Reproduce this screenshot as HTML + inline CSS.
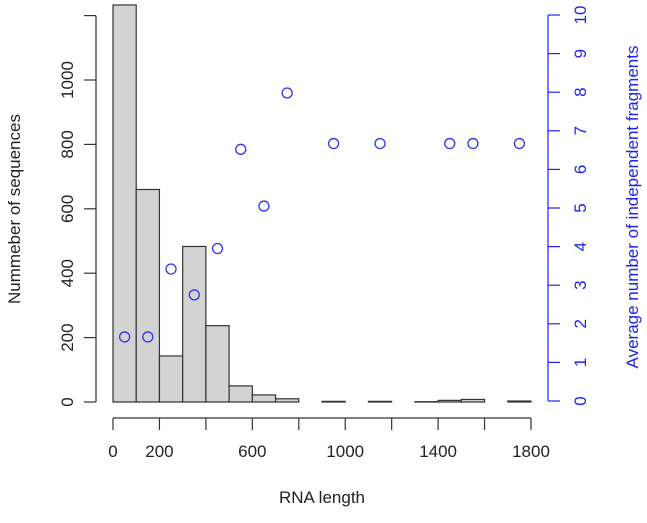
<!DOCTYPE html>
<html><head><meta charset="utf-8"><style>
body{margin:0;background:#fff;}
svg text{font-family:"Liberation Sans","DejaVu Sans",sans-serif;font-size:17px;}
</style></head><body>
<svg id="c" width="647" height="518"></svg>
<script>
const binStarts=[0,100,200,300,400,500,600,700,800,900,1000,1100,1200,1300,1400,1500,1600,1700];
const counts=[1233,660,143,483,237,50,22,10,0,2,0,2,0,1,5,8,0,3];
const pointX=[50,150,250,350,450,550,650,750,950,1150,1450,1550,1750];
const pointY=[1.66,1.66,3.42,2.75,3.95,6.52,5.05,7.98,6.67,6.67,6.67,6.67,6.67];
const xTicks=[0,200,400,600,800,1000,1200,1400,1600,1800];
const xLabels=["0","200","","600","","1000","","1400","","1800"];
const yTicks=[0,200,400,600,800,1000,1200];
const yLabels=["0","200","400","600","800","1000",""];
const y2Ticks=[0,1,2,3,4,5,6,7,8,9,10];

const X=v=>113+v*418/1800;
const Y=v=>402-v*0.322;
const Y2=v=>401-v*38.6;
const svg=document.getElementById('c');
const NS='http://www.w3.org/2000/svg';
function mk(t,a){const e=document.createElementNS(NS,t);for(const k in a)e.setAttribute(k,a[k]);svg.appendChild(e);return e;}

counts.forEach((c,i)=>{
 const r=mk('rect',{x:X(binStarts[i]),y:Y(c),width:X(binStarts[i]+100)-X(binStarts[i]),height:Y(0)-Y(c),fill:'#d3d3d3',stroke:'#333','stroke-width':1.2});
 
 
});
let ax=mk('line',{x1:X(0),x2:X(1800),y1:418,y2:418,stroke:'#333','stroke-width':1.2});


xTicks.forEach((t,i)=>{
 mk('line',{x1:X(t),x2:X(t),y1:418,y2:430,stroke:'#333','stroke-width':1.2});
 if(xLabels[i]){const tx=mk('text',{x:X(t),y:457,'text-anchor':'middle',fill:'#222'});tx.textContent=xLabels[i];
 
 }
});
let ay=mk('line',{x1:96,x2:96,y1:Y(0),y2:Y(1200),stroke:'#333','stroke-width':1.2});


yTicks.forEach((t,i)=>{
 mk('line',{x1:84,x2:96,y1:Y(t),y2:Y(t),stroke:'#333','stroke-width':1.2});
 if(yLabels[i]){const tx=mk('text',{x:0,y:0,'text-anchor':'middle',fill:'#222',transform:`translate(73,${Y(t)}) rotate(-90)`});tx.textContent=yLabels[i];
 
 }
});
let a2=mk('line',{x1:548,x2:548,y1:Y2(0),y2:Y2(10),stroke:'#2222ee','stroke-width':1.2});


y2Ticks.forEach(t=>{
 mk('line',{x1:548,x2:560,y1:Y2(t),y2:Y2(t),stroke:'#2222ee','stroke-width':1.2});
 const tx=mk('text',{x:0,y:0,'text-anchor':'middle',fill:'#2222ee',transform:`translate(586,${Y2(t)}) rotate(-90)`});tx.textContent=String(t);
 
 
});
pointX.forEach((px,i)=>{
 const c=mk('circle',{cx:X(px),cy:Y2(pointY[i]),r:5,fill:'none',stroke:'#3333ee','stroke-width':1.3});
 
 
});
let t1=mk('text',{x:322,y:503,'text-anchor':'middle',fill:'#222'});t1.textContent='RNA length';


let t2=mk('text',{x:0,y:0,'text-anchor':'middle',fill:'#222',transform:'translate(20,209) rotate(-90)'});t2.textContent='Nummeber of sequences';


let t3=mk('text',{x:0,y:0,'text-anchor':'middle',fill:'#2222ee',transform:'translate(638,207) rotate(-90)'});t3.textContent='Average number of independent fragments';


</script>
</body></html>
